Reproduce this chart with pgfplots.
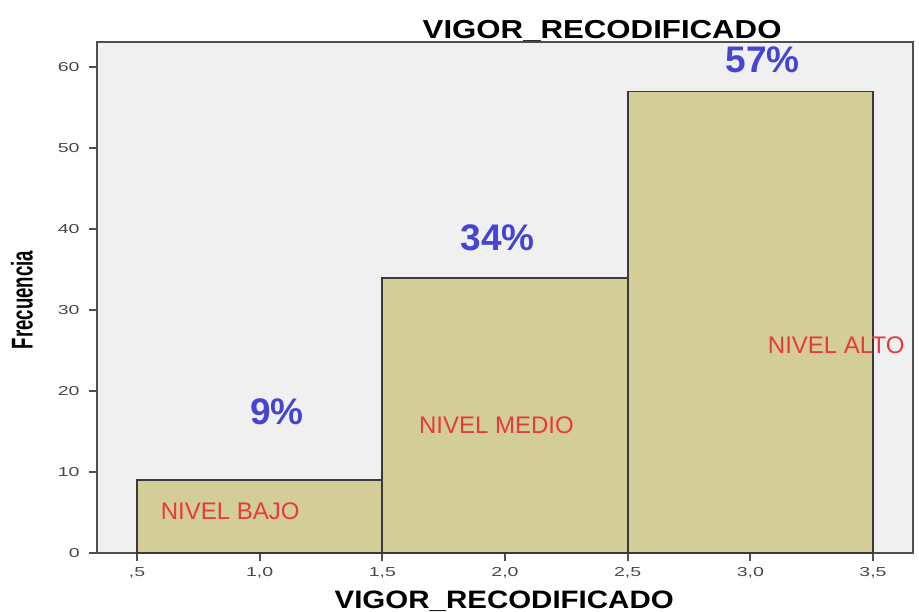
\documentclass[border=0pt]{standalone}
\usepackage{pgfplots}
\pgfplotsset{compat=1.18}
\usepackage{fontspec}
\setmainfont{Liberation Sans}
\definecolor{barfill}{HTML}{D3CD97}
\definecolor{plotbg}{HTML}{F0F0F0}
\definecolor{axisgray}{HTML}{4F4F4F}
\definecolor{edgegray}{HTML}{3A3A3A}
\definecolor{lblred}{HTML}{E8393E}
\definecolor{lblblue}{HTML}{4545D2}
% wide tick labels, as in the SPSS output
\newcommand{\tl}[1]{\scalebox{1.5}[1]{#1}}
\begin{document}
\begin{tikzpicture}
  \begin{axis}[
    scale only axis,
    width=408pt, height=255.5pt,
    xmin=0.337, xmax=3.663,
    ymin=0, ymax=63.1,
    clip=false,
    axis background/.style={fill=plotbg},
    axis line style={axisgray, line width=1.2pt},
    tick align=outside,
    tick pos=left,
    major tick length=4pt,
    tick style={axisgray, line width=0.9pt},
    xtick={0.5,1,1.5,2,2.5,3,3.5},
    xticklabels={\tl{,5},\tl{1,0},\tl{1,5},\tl{2,0},\tl{2,5},\tl{3,0},\tl{3,5}},
    ytick={0,10,20,30,40,50,60},
    yticklabels={\tl{0},\tl{10},\tl{20},\tl{30},\tl{40},\tl{50},\tl{60}},
    ticklabel style={font=\fontsize{6.5}{7}\selectfont, text=black!72, inner sep=0pt},
    xticklabel style={anchor=north, yshift=-3pt},
    yticklabel style={anchor=east, xshift=-4.5pt},
  ]
    \addplot[ybar interval, fill=barfill, draw=edgegray, line width=0.9pt]
      coordinates {(0.5,9) (1.5,34) (2.5,57) (3.5,57)};
    \coordinate (bl) at (rel axis cs:0,0);
    \coordinate (tr) at (rel axis cs:1,1);
    % percentages
    \node[text=lblblue, font=\fontsize{18.5}{20}\selectfont\bfseries] at (axis cs:1.07,17.4) {9\%};
    \node[text=lblblue, font=\fontsize{18.5}{20}\selectfont\bfseries] at (axis cs:1.97,38.9) {34\%};
    \node[text=lblblue, font=\fontsize{18.5}{20}\selectfont\bfseries] at (axis cs:3.05,60.9) {57\%};
    % level names
    \node[text=lblred, font=\fontsize{12}{13}\selectfont] at (axis cs:0.88,5.2) {NIVEL BAJO};
    \node[text=lblred, font=\fontsize{12}{13}\selectfont] at (axis cs:1.965,15.8) {NIVEL MEDIO};
    \node[text=lblred, font=\fontsize{12}{13}\selectfont] at (axis cs:3.35,25.7) {NIVEL ALTO};
    % title and axis labels
    \node[anchor=base, inner sep=0pt, font=\fontsize{13}{14}\selectfont\bfseries]
      at ([yshift=2pt]rel axis cs:0.619,1) {\scalebox{1.2}[1]{VIGOR\_RECODIFICADO}};
    \node[anchor=base, inner sep=0pt, font=\fontsize{12.6}{14}\selectfont\bfseries]
      at ([yshift=-27.5pt]rel axis cs:0.499,0) {\scalebox{1.17}[1]{VIGOR\_RECODIFICADO}};
    \node[rotate=90, inner sep=0pt, font=\fontsize{15}{16}\selectfont\bfseries]
      at ([xshift=-37.5pt]rel axis cs:0,0.495) {\scalebox{0.62}[1]{Frecuencia}};
  \end{axis}
  \pgfresetboundingbox
  \path[use as bounding box] ([xshift=-48.5pt,yshift=-29pt]bl) rectangle ([xshift=3pt,yshift=21pt]tr);
\end{tikzpicture}
\end{document}
